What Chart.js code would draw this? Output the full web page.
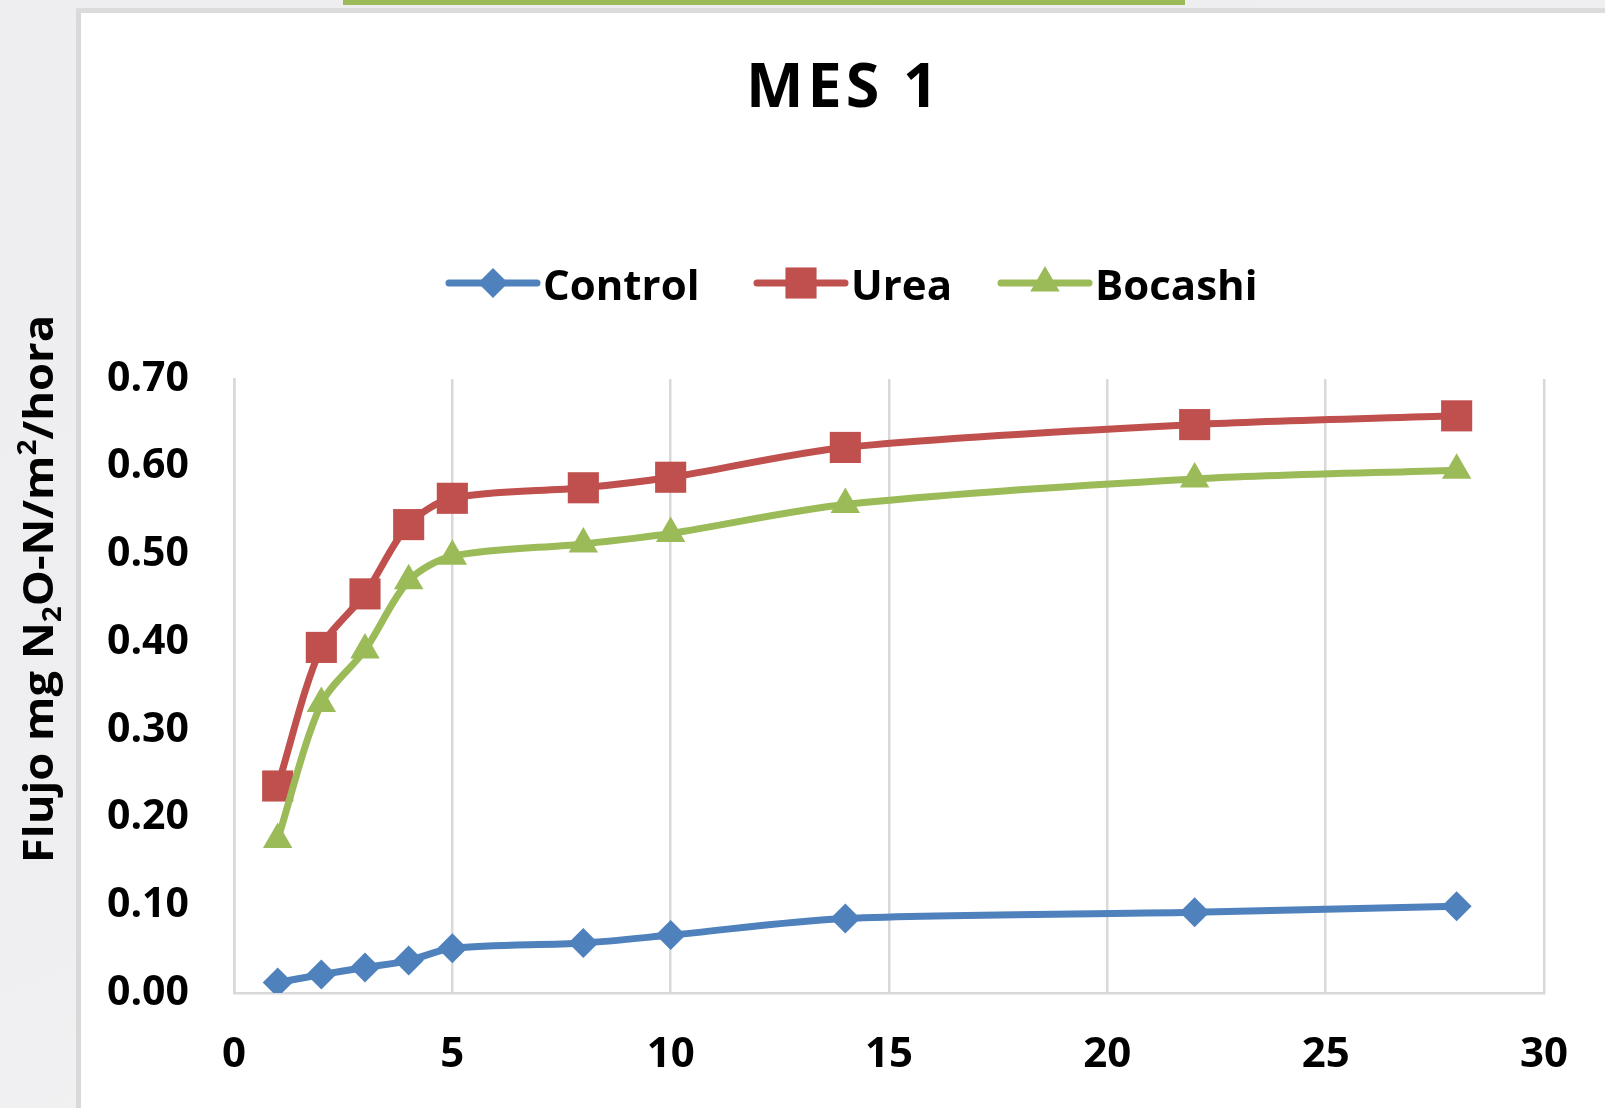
<!DOCTYPE html>
<html>
<head>
<meta charset="utf-8">
<title>MES 1</title>
<script src="https://cdn.jsdelivr.net/npm/chart.js@4/dist/chart.umd.min.js"></script>
<style>
  html, body { margin: 0; padding: 0; }
  body {
    width: 1605px; height: 1108px; overflow: hidden; position: relative;
    background: linear-gradient(160deg, #eeeef1 0%, #efeff1 55%, #f5f5f6 100%);
  }
  #topbar { position: absolute; left: 343px; top: 0; width: 842px; height: 5px; background: #9BBB59; }
  #panel {
    position: absolute; left: 76px; top: 8px; right: 0; bottom: 0;
    background: #ffffff;
    border-left: 5px solid #d9d9d9; border-top: 5px solid #dcdcdc;
  }
  #c { position: absolute; left: 0; top: 0; }
</style>
</head>
<body>
<div id="topbar"></div>
<div id="panel"></div>
<canvas id="c" width="1605" height="1108"></canvas>
<script>
// Days after application
const days = [1, 2, 3, 4, 5, 8, 10, 14, 22, 28];
// Flux, mg N2O-N / m2 / hour
const control = [0.012, 0.021, 0.029, 0.037, 0.051, 0.057, 0.066, 0.085, 0.092, 0.099];
const urea    = [0.236, 0.394, 0.455, 0.534, 0.564, 0.576, 0.588, 0.622, 0.648, 0.658];
const bocashi = [0.175, 0.330, 0.391, 0.470, 0.498, 0.512, 0.524, 0.557, 0.586, 0.596];

const seriesNames = ['Control', 'Urea', 'Bocashi'];
const chartTitle = 'MES 1';
const xTickValues = [0, 5, 10, 15, 20, 25, 30];
const yTickValues = [0, 0.1, 0.2, 0.3, 0.4, 0.5, 0.6, 0.7];

const BLUE = '#4F81BD', RED = '#C0504D', GREEN = '#9BBB59';
const GRID = '#d9d9d9';

function pts(ys) { return days.map((d, i) => ({ x: d, y: ys[i] })); }

function lineSet(label, ys, color, style, radius, order) {
  return {
    label, data: pts(ys), order,
    borderColor: color, backgroundColor: color,
    borderWidth: 7, tension: 0.3,
    pointStyle: style, pointRadius: radius, pointHoverRadius: radius,
    pointBorderWidth: 0, pointBackgroundColor: color, pointBorderColor: color,
    borderCapStyle: 'round', borderJoinStyle: 'round'
  };
}

const datasets = [
  lineSet(seriesNames[0], control, BLUE, 'rectRot', 15, 3),
  lineSet(seriesNames[1], urea, RED, 'rect', 22, 2),
  lineSet(seriesNames[2], bocashi, GREEN, 'triangle', 17, 1)
];

// Left end of each legend sample line
const legendStarts = [449, 757, 1001];

// Title, legend with line + marker samples, and the rotated y-axis title
const decorations = {
  id: 'decorations',
  afterDraw(chart) {
    const ctx = chart.ctx;

    // Title
    ctx.save();
    ctx.fillStyle = '#000';
    ctx.font = 'bold 61px "Open Sans"';
    ctx.letterSpacing = '4px';
    ctx.textAlign = 'center';
    ctx.textBaseline = 'alphabetic';
    ctx.fillText(chartTitle, 844, 107);
    ctx.restore();

    // Legend
    ctx.save();
    ctx.font = 'bold 42px "Open Sans"';
    ctx.textBaseline = 'alphabetic';
    ctx.textAlign = 'left';
    const ly = 283;
    const sampleLen = 88;
    chart.data.datasets.forEach((ds, i) => {
      const x = legendStarts[i];
      ctx.strokeStyle = ds.borderColor;
      ctx.lineWidth = 7;
      ctx.lineCap = 'round';
      ctx.beginPath();
      ctx.moveTo(x, ly);
      ctx.lineTo(x + sampleLen, ly);
      ctx.stroke();
      ctx.fillStyle = ds.backgroundColor;
      Chart.helpers.drawPoint(ctx, {
        pointStyle: ds.pointStyle, radius: ds.pointRadius, rotation: 0, borderWidth: 0
      }, x + sampleLen / 2, ly);
      ctx.fillStyle = '#000';
      ctx.fillText(ds.label, x + sampleLen + 6, 300);
    });
    ctx.restore();

    // Y-axis title with subscript and superscript
    ctx.save();
    const parts = [
      { t: 'Flujo mg N', s: 0 },
      { t: '2', s: 1 },
      { t: 'O-N/m', s: 0 },
      { t: '2', s: -1 },
      { t: '/hora', s: 0 }
    ];
    const fs = 42;
    const mainFont = 'bold ' + fs + 'px "Open Sans"';
    const smallFont = 'bold ' + Math.round(fs * 0.62) + 'px "Open Sans"';
    let total = 0;
    parts.forEach(p => {
      ctx.font = p.s ? smallFont : mainFont;
      p.w = ctx.measureText(p.t).width;
      total += p.w;
    });
    const targetLen = 548;
    const k = targetLen / total;
    ctx.translate(53, 589);
    ctx.rotate(-Math.PI / 2);
    ctx.scale(k, 1);
    ctx.fillStyle = '#000';
    ctx.textBaseline = 'alphabetic';
    ctx.textAlign = 'left';
    let px = -total / 2;
    parts.forEach(p => {
      ctx.font = p.s ? smallFont : mainFont;
      const dy = p.s === 1 ? 8 : (p.s === -1 ? -17 : 0);
      ctx.fillText(p.t, px, dy);
      px += p.w;
    });
    ctx.restore();
  }
};

new Chart(document.getElementById('c'), {
  type: 'line',
  data: { datasets },
  options: {
    responsive: false,
    animation: false,
    devicePixelRatio: 1,
    layout: { padding: { top: 379, right: 61, left: 0, bottom: 0 } },
    plugins: {
      legend: { display: false },
      title: { display: false },
      tooltip: { enabled: false }
    },
    scales: {
      x: {
        type: 'linear',
        min: 0, max: 30,
        afterFit(scale) { scale.height = 115; },
        afterBuildTicks(scale) { scale.ticks = xTickValues.map(v => ({ value: v })); },
        grid: { color: GRID, lineWidth: 2.5, drawTicks: false },
        border: { display: true, color: GRID, width: 2.5 },
        ticks: {
          padding: 37,
          color: '#000',
          font: { family: '"Open Sans"', weight: 'bold', size: 42 },
          callback: v => String(v)
        }
      },
      y: {
        min: 0, max: 0.7,
        afterFit(scale) { scale.width = 234; },
        afterBuildTicks(scale) { scale.ticks = yTickValues.map(v => ({ value: v })); },
        grid: { color: 'rgba(0,0,0,0)', drawTicks: false },
        border: { display: true, color: GRID, width: 2.5 },
        ticks: {
          padding: 45,
          color: '#000',
          font: { family: '"Open Sans"', weight: 'bold', size: 41 },
          callback: v => Number(v).toFixed(2)
        }
      }
    }
  },
  plugins: [decorations]
});
</script>
</body>
</html>
